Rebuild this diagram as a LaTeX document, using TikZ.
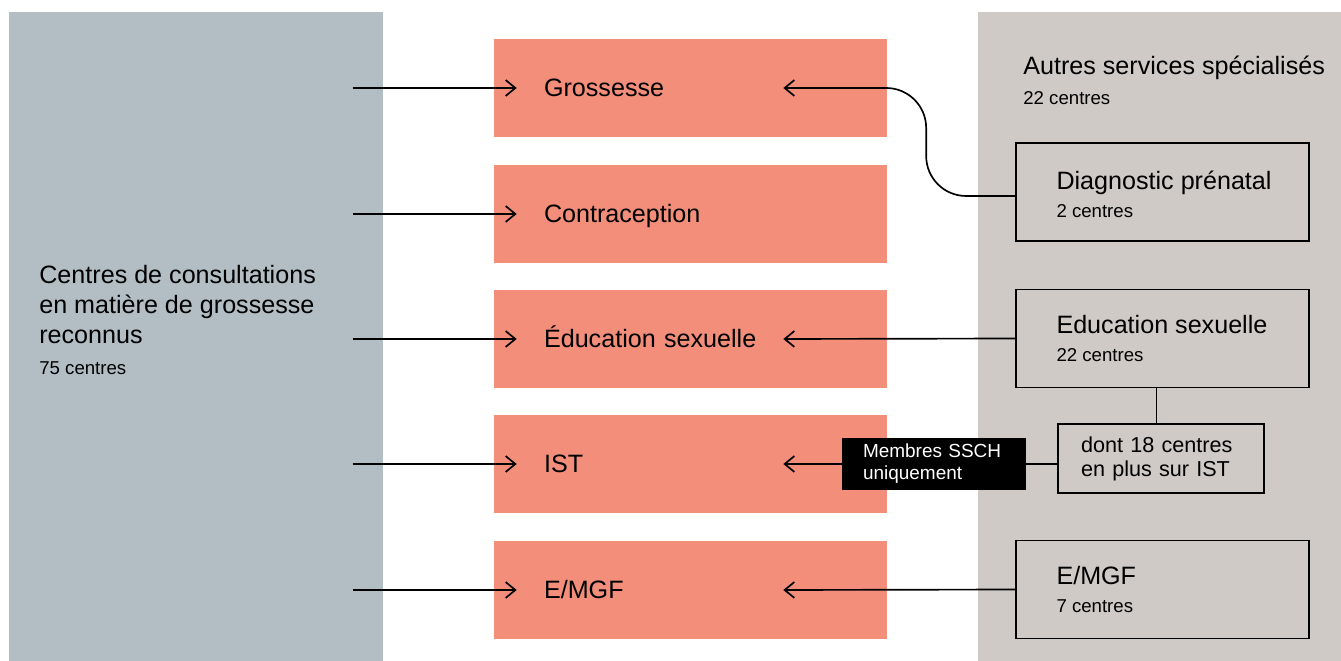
\documentclass[tikz,border=0pt]{standalone}
\usepackage{fontspec}
\setmainfont{Liberation Sans}
\usetikzlibrary{arrows.meta,positioning}
\definecolor{panelblue}{HTML}{B3BEC4}
\definecolor{panelsand}{HTML}{CFCAC6}
\definecolor{salmon}{HTML}{F28E7A}

\newcommand{\bigtxt}{\fontsize{14.3}{17}\selectfont}
\newcommand{\smalltxt}{\fontsize{10.6}{13}\selectfont}

\begin{document}
\begin{tikzpicture}[
  x=0.02cm, y=-0.02cm,
  topic/.style={fill=salmon, text width=5.86cm, inner xsep=1cm,
    text height=11pt, text depth=1pt,
    minimum height=1.96cm, align=left, font=\bigtxt},
  service/.style={draw, line width=1pt, fill=panelsand, minimum width=5.86cm,
    minimum height=1.96cm},
  servtext/.style={inner sep=0, align=left, font=\bigtxt},
  extrabox/.style={draw, line width=1pt, fill=panelsand, text width=3.2cm,
    inner xsep=0.46cm, minimum height=1.38cm, align=left,
    font=\fontsize{12.3}{13.6}\selectfont},
  note/.style={fill=black, text=white, text width=2.84cm, inner xsep=0.42cm,
    minimum height=1.02cm, align=left, font=\fontsize{10.8}{12.5}\selectfont},
  flow/.style={-{Straight Barb[length=5.5pt,width=9pt]}, line width=0.95pt},
  link/.style={line width=0.95pt},
]
  \useasboundingbox (0,0) rectangle (1341,661);
  % Panels
  \fill[panelblue] (9,12) rectangle (383,661);
  \fill[panelsand] (978,12) rectangle (1341,661);
  \node[anchor=north west, inner sep=0, align=left, font=\bigtxt] (reco)
    at (39,265) {Centres de consultations\\en matière de grossesse\\reconnus\\[1pt]{\smalltxt 75 centres}};
  \node[anchor=north west, inner sep=0, align=left, font=\bigtxt] (autres)
    at (1023,56) {Autres services spécialisés\\{\smalltxt 22 centres}};
  % Topics
  \foreach \name/\label/\y in {gross/Grossesse/88, contra/Contraception/214,
      edu/Éducation sexuelle/339, ist/IST/464, emgf/{E/MGF}/590}{
    \node[topic] (\name) at (690.5,\y) {\label};
    \draw[flow] ([xshift=-2.82cm]\name.west) -- ([xshift=0.46cm]\name.west);
  }
  % Services
  \node[service] (diag) at (1162.5,192) {};
  \node[servtext, right=0.82cm of diag.west, yshift=-0.04cm] (diag-txt) {Diagnostic prénatal\\[-1pt]{\smalltxt 2 centres}};
  \node[service] (eduserv) at (1162.5,338.5) {};
  \node[servtext, right=0.82cm of eduserv.west] (eduserv-txt) {Education sexuelle\\[-1pt]{\smalltxt 22 centres}};
  \node[service] (emgfserv) at (1162.5,589.5) {};
  \node[servtext, right=0.82cm of emgfserv.west] (emgfserv-txt) {E/MGF\\[-1pt]{\smalltxt 7 centres}};
  \node[extrabox] (extra) at (1161,458.5) {dont 18 centres\\en plus sur IST};
  \node[note] (ssch) at (934,464) {Membres SSCH\\uniquement};
  % Links
  \draw[flow, rounded corners=0.8cm] ([yshift=-0.08cm]diag.west) -- ++(-1.78cm,0)
    |- ([xshift=-2.08cm]gross.east);
  \draw[flow] (eduserv.west) -- ([xshift=-2.08cm]edu.east);
  \draw[link] ([xshift=-0.12cm]eduserv.south) -- ([xshift=-0.12cm]eduserv.south |- extra.north);
  \draw[link] (ssch.east -| extra.west) -- (ssch.east);
  \draw[flow] (ssch.west) -- ([xshift=-2.08cm]ist.east);
  \draw[flow] (emgfserv.west) -- ([xshift=-2.08cm]emgf.east);
\end{tikzpicture}
\end{document}
